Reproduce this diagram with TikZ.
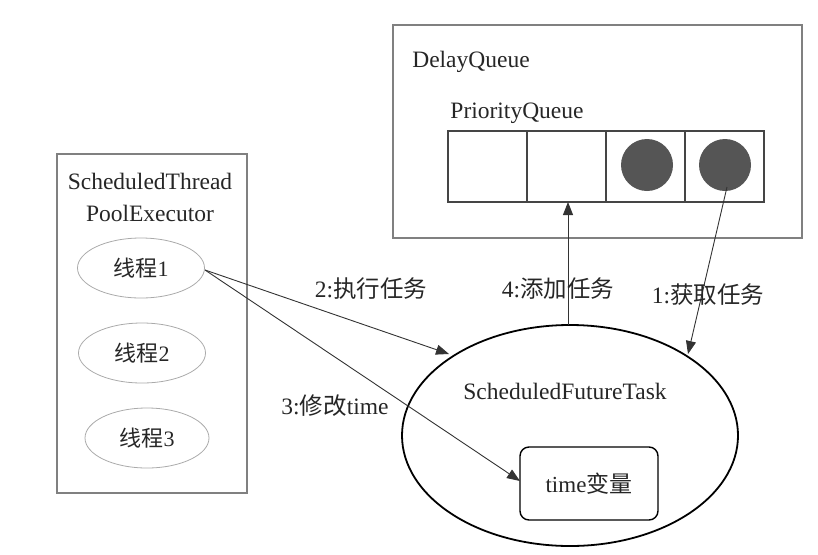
\documentclass[tikz,border=0pt]{standalone}
\usepackage{fontspec}
\setmainfont{Liberation Serif}
\newfontfamily\cjk{Noto Sans CJK SC}
\usetikzlibrary{arrows.meta,shapes.geometric}
\definecolor{boxgray}{HTML}{808080}
\definecolor{qgray}{HTML}{454545}
\definecolor{dotgray}{HTML}{555555}
\definecolor{ellgray}{HTML}{AAAAAA}
\definecolor{arrgray}{HTML}{333333}
\tikzset{
  txt/.style={inner sep=0pt, font=\fontsize{23.5}{26}\selectfont, text=black!85},
  outerbox/.style={draw=boxgray, line width=2.6pt},
  qcell/.style={draw=qgray, line width=2.6pt, minimum width=79pt, minimum height=71pt, inner sep=0pt},
  dot/.style={circle, fill=dotgray, minimum size=52pt, inner sep=0pt},
  thread/.style={ellipse, draw=ellgray, line width=0.8pt, minimum width=127pt, minimum height=60pt, inner sep=0pt, font=\fontsize{22}{24}\selectfont, text=black!85},
  arr/.style={draw=arrgray, line width=0.9pt, -{Triangle[length=13pt,width=10pt]}},
}
\begin{document}
\begin{tikzpicture}[x=1pt,y=-1pt]
\useasboundingbox (0,0) rectangle (818,554);
% DelayQueue box
\node[outerbox, minimum width=409pt, minimum height=213pt, inner sep=0pt] (dq) at (597.5,131.5) {};
\node[txt] (dqlabel) at (471,62) {DelayQueue};
\node[txt] (pqlabel) at (517,113) {PriorityQueue};
% queue cells
\node[qcell] (c1) at (487.5,166.5) {};
\node[qcell] (c2) at (566.5,166.5) {};
\node[qcell] (c3) at (645.5,166.5) {};
\node[qcell] (c4) at (724.5,166.5) {};
\node[dot] (d3) at (647,165) {};
\node[dot] (d4) at (725,165) {};
% left box
\node[outerbox, minimum width=190pt, minimum height=339pt, inner sep=0pt] (pool) at (152,323.5) {};
\node[txt] (pl1) at (150,181) {ScheduledThread};
\node[txt] (pl2) at (150,213) {PoolExecutor};
\node[thread] (t1) at (141,268) {{\cjk 线程}1};
\node[thread] (t2) at (142,353) {{\cjk 线程}2};
\node[thread, minimum width=124pt] (t3) at (147,438) {{\cjk 线程}3};
% ScheduledFutureTask
\node[ellipse, draw=black, line width=1.8pt, minimum width=336pt, minimum height=221pt, inner sep=0pt] (sft) at (570,435.5) {};
\node[txt] (sftlabel) at (565,391) {ScheduledFutureTask};
\node[draw=black, line width=1.4pt, rounded corners=9pt, minimum width=138pt, minimum height=73pt, inner sep=0pt, font=\fontsize{23}{26}\selectfont, text=black!85] (tv) at (589,483.5) {time{\cjk 变量}};
% connectors
\coordinate (t1e) at (205,270);
\coordinate (sftA) at (449,354);
\coordinate (tvA) at (520,481);
\coordinate (sftTop) at (568,325);
\coordinate (qBot) at (568,202);
\coordinate (d4s) at (727,187);
\coordinate (sftB) at (688,354);
\draw[arr] (t1e) -- (sftA);
\draw[arr] (t1e) -- (tvA);
\draw[arr] (sftTop) -- (qBot);
\draw[arr] (d4s) -- (sftB);
% labels
\node[txt] (l2) at (371,289) {2:{\cjk 执行任务}};
\node[txt] (l4) at (558,289) {4:{\cjk 添加任务}};
\node[txt] (l1) at (708,295) {1:{\cjk 获取任务}};
\node[txt] (l3) at (335,406) {3:{\cjk 修改}time};
\end{tikzpicture}
\end{document}
